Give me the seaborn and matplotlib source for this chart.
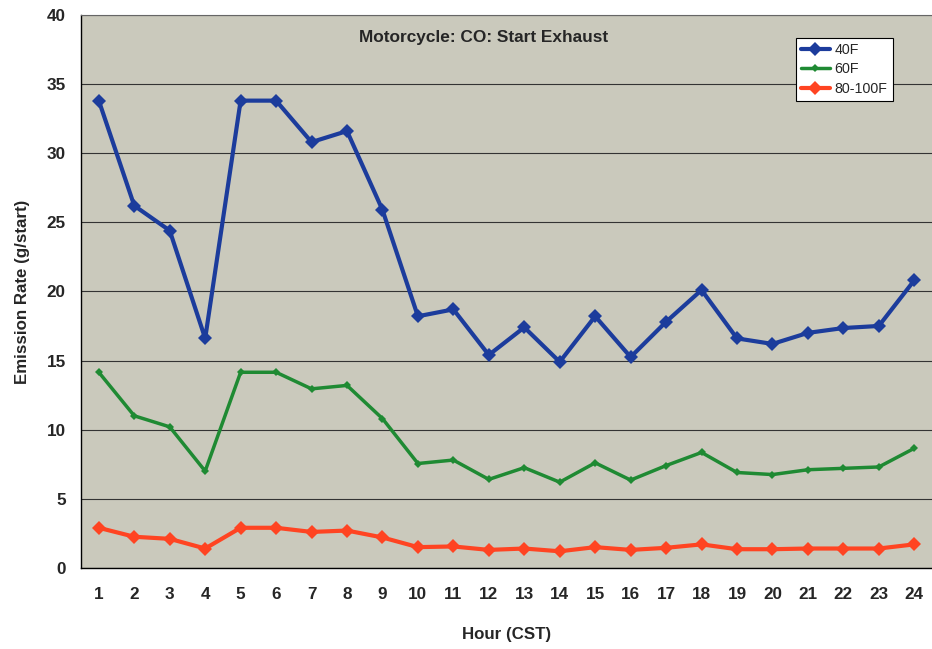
import matplotlib
matplotlib.use("Agg")
import matplotlib.pyplot as plt
import seaborn as sns
import pandas as pd
import numpy as np

hours = [str(h) for h in range(1, 25)]
temp_40f = [33.8, 26.2, 24.4, 16.6, 33.8, 33.8, 30.8, 31.6, 25.9, 18.2, 18.7, 15.4,
            17.4, 14.9, 18.2, 15.25, 17.8, 20.1, 16.6, 16.2, 17.0, 17.35, 17.5, 20.8]
temp_60f = [14.15, 11.0, 10.2, 7.0, 14.15, 14.15, 12.95, 13.2, 10.8, 7.55, 7.8, 6.4,
            7.25, 6.2, 7.6, 6.35, 7.4, 8.35, 6.9, 6.75, 7.1, 7.2, 7.3, 8.65]
temp_80_100f = [2.9, 2.25, 2.1, 1.4, 2.9, 2.9, 2.6, 2.7, 2.2, 1.5, 1.55, 1.3,
                1.4, 1.2, 1.5, 1.3, 1.45, 1.7, 1.35, 1.35, 1.4, 1.4, 1.4, 1.7]
series_names = ["40F", "60F", "80-100F"]

# long-form table for seaborn
df = pd.DataFrame({
    "Hour": hours * 3,
    "Rate": temp_40f + temp_60f + temp_80_100f,
    "Series": np.repeat(series_names, len(hours)),
})

sns.set_style("white")
plt.rcParams["font.family"] = ["Liberation Sans", "DejaVu Sans"]

colors = {"40F": "#1c3c9c", "60F": "#1f8a33", "80-100F": "#ff4422"}
markers = {"40F": "D", "60F": "D", "80-100F": "D"}

fig = plt.figure(figsize=(9.32, 6.49), dpi=100)
ax = fig.add_axes([0.087, 0.125, 0.913, 0.852])
ax.set_facecolor("#cac9bc")

sns.lineplot(data=df, x="Hour", y="Rate", hue="Series", style="Series",
             palette=colors, markers=markers, dashes=False, linewidth=3,
             markersize=7, markeredgewidth=0, sort=False, ax=ax)
# smaller marker on the 60F line
for line in ax.lines:
    if line.get_color() == colors["60F"]:
        line.set_markersize(4)
        line.set_linewidth(2.5)

ax.set_ylim(0, 40)
ax.set_xlim(-0.5, 23.5)
ax.set_yticks(range(0, 41, 5))
ax.yaxis.grid(True, color="#333333", linewidth=0.8)
ax.set_axisbelow(True)

# x ticks: labels at category centres, tick marks at the boundaries
ax.set_xticks(range(24))
ax.set_xticks(np.arange(-0.5, 24, 1), minor=True)
ax.tick_params(axis="x", which="major", length=0, pad=14)
ax.tick_params(axis="x", which="minor", length=5, color="black", direction="out")
ax.tick_params(axis="y", length=5, color="black", direction="out", pad=6)
for lbl in ax.get_xticklabels() + ax.get_yticklabels():
    lbl.set_fontweight("bold")
    lbl.set_fontsize(12.3)

for side in ["left", "bottom"]:
    ax.spines[side].set_color("black")
    ax.spines[side].set_linewidth(1.0)
ax.spines["top"].set_color("#666666")
ax.spines["top"].set_linewidth(0.8)
ax.spines["right"].set_visible(False)

ax.set_xlabel("Hour (CST)", fontsize=12.2, fontweight="bold", labelpad=18)
ax.set_ylabel("Emission Rate (g/start)", fontsize=12.2, fontweight="bold", labelpad=12)
ax.text(0.473, 0.973, "Motorcycle: CO: Start Exhaust", transform=ax.transAxes,
        ha="center", va="top", fontsize=12.4, fontweight="bold")

leg = ax.legend(loc="upper right", bbox_to_anchor=(0.962, 0.972), frameon=True,
                fancybox=False, framealpha=1, edgecolor="black", fontsize=10.3,
                handlelength=2.0, handletextpad=0.35, borderpad=0.35,
                labelspacing=0.4, title=None)
leg.get_frame().set_linewidth(0.8)

plt.savefig("out.png", dpi=100)
